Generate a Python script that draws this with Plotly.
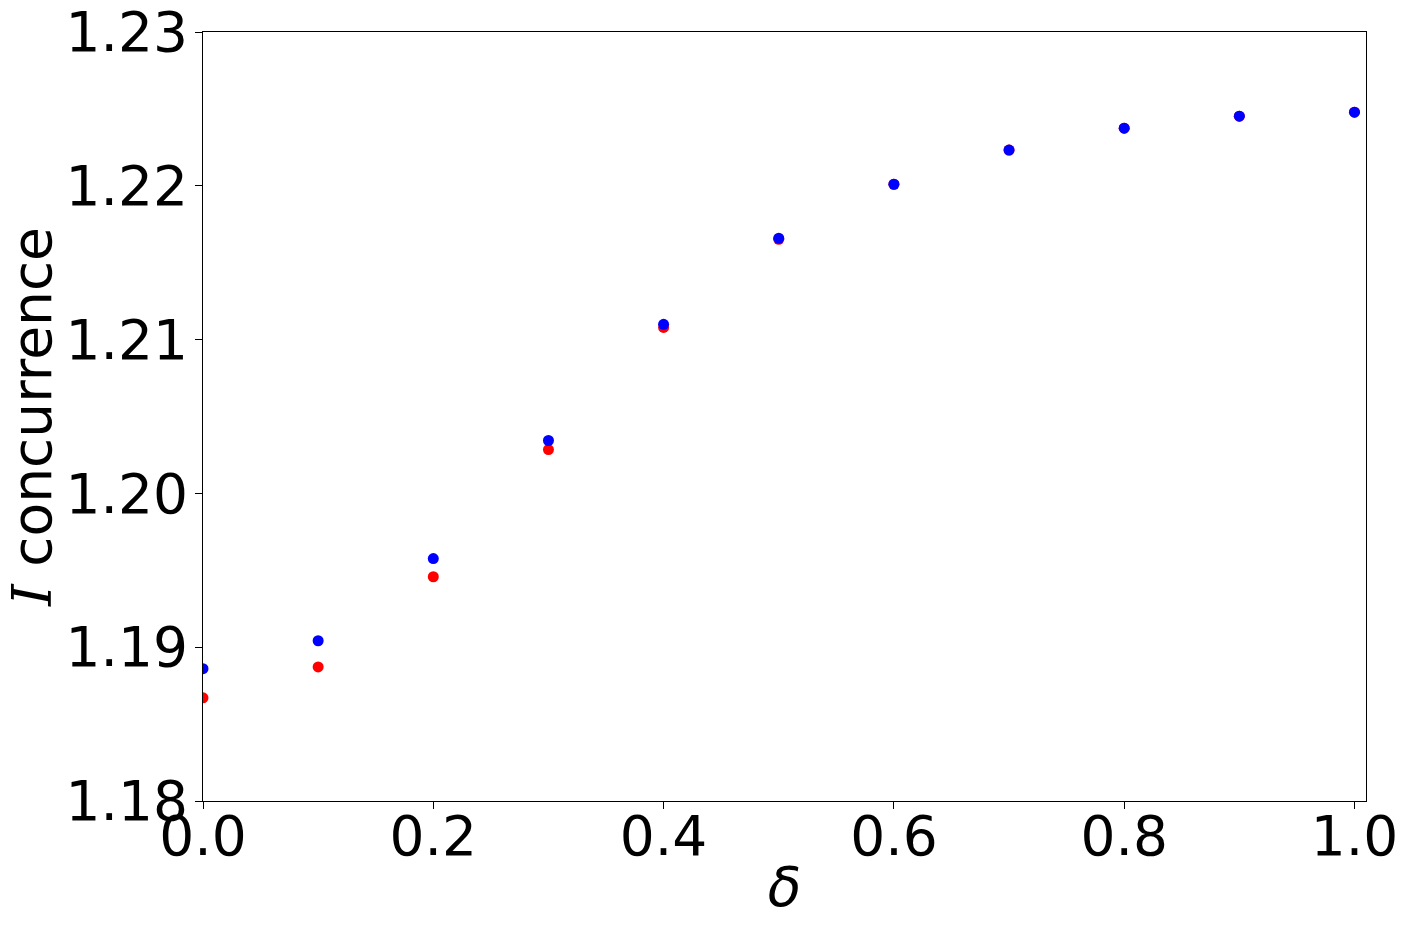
import plotly.graph_objects as go

delta = [0.0, 0.1, 0.2, 0.3, 0.4, 0.5, 0.6, 0.7, 0.8, 0.9, 1.0]
red_vals = [1.18671, 1.18872, 1.19458, 1.20285, 1.21079, 1.21652, 1.2201, 1.22232, 1.22375, 1.22453, 1.22479]
blue_vals = [1.18860, 1.19042, 1.19576, 1.20344, 1.21099, 1.21659, 1.2201, 1.22232, 1.22375, 1.22453, 1.22479]
y_ticks = [1.18, 1.19, 1.20, 1.21, 1.22, 1.23]
x_ticks = [0.0, 0.2, 0.4, 0.6, 0.8, 1.0]

fig = go.Figure()
fig.add_trace(go.Scatter(x=delta, y=red_vals, mode="markers",
                         marker=dict(color="red", size=11), showlegend=False))
fig.add_trace(go.Scatter(x=delta, y=blue_vals, mode="markers",
                         marker=dict(color="blue", size=11), showlegend=False))

font = "DejaVu Sans"
fs = 55
fig.update_layout(
    width=1408, height=934,
    paper_bgcolor="white", plot_bgcolor="white",
    margin=dict(l=203, r=42, t=32, b=133, autoexpand=False),
    font=dict(family=font, size=fs, color="black"),
)
fig.update_xaxes(
    range=[0, 1.01], tickvals=x_ticks, ticktext=[f"{v:.1f}" for v in x_ticks],
    showline=True, linecolor="black", linewidth=1.2, mirror=True,
    ticks="outside", ticklen=7, tickcolor="black", showgrid=False, zeroline=False,
    tickfont=dict(size=fs, family=font), automargin=False, ticklabelstandoff=-20,
    ticklabeloverflow="allow",
    title=dict(text="<i>δ</i>", font=dict(size=fs, family=font), standoff=0),
)
fig.update_yaxes(
    range=[1.18, 1.23], tickvals=y_ticks, ticktext=[f"{v:.2f}" for v in y_ticks],
    showline=True, linecolor="black", linewidth=1.2, mirror=True,
    ticks="outside", ticklen=7, tickcolor="black", showgrid=False, zeroline=False,
    tickfont=dict(size=fs, family=font), automargin=False, ticklabelstandoff=-4,
    ticklabeloverflow="allow",
    title=dict(text="<span style='font-family:DejaVu Serif'><i>I</i></span> concurrence",
               font=dict(size=fs, family=font), standoff=8),
)
fig.write_html("out.html", config={"displayModeBar": False},
               post_script="document.body.style.margin='0';document.body.style.overflow='hidden';")
